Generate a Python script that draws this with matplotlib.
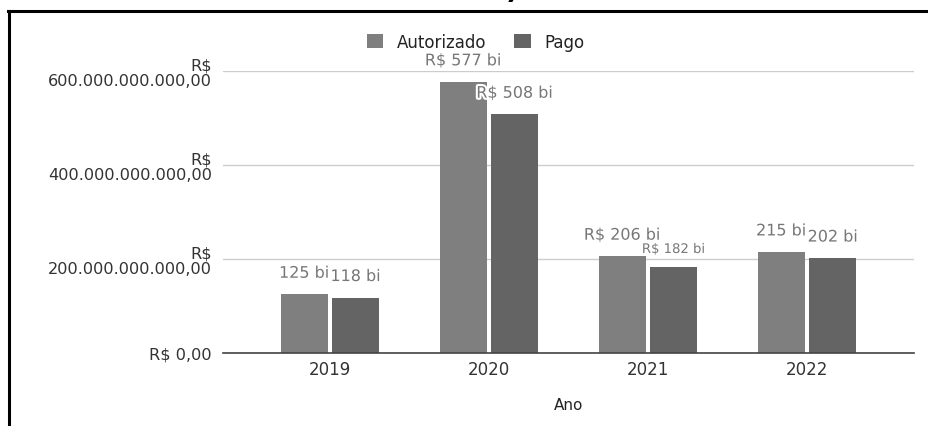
import matplotlib
matplotlib.use("Agg")
import matplotlib.pyplot as plt
import matplotlib.patheffects as pe
from matplotlib.lines import Line2D
import numpy as np

# dados (R$)
anos = ["2019", "2020", "2021", "2022"]
autorizado = [125e9, 577e9, 206e9, 215e9]
pago = [118e9, 508e9, 182e9, 202e9]
rot_autorizado = ["125 bi", "R$ 577 bi", "R$ 206 bi", "215 bi"]
rot_pago = ["118 bi", "R$ 508 bi", "R$ 182 bi", "202 bi"]
yticks = [0, 200e9, 400e9, 600e9]
ytick_labels = ["R$ 0,00", "R$\n200.000.000.000,00", "R$\n400.000.000.000,00",
                "R$\n600.000.000.000,00"]

COR_AUT = "#7f7f7f"
COR_PAGO = "#646464"
COR_ROT = "#777777"

plt.rcParams['font.family'] = ['DejaVu Sans']

W, H = 929, 427
fig = plt.figure(figsize=(W / 100, H / 100), dpi=100)
ax = fig.add_axes([223 / W, 1 - 354 / H, (914 - 223) / W, (354 - 72) / H])

x = np.arange(len(anos))
w = 0.296
off = 0.162
b1 = ax.bar(x - off, autorizado, w, color=COR_AUT, label="Autorizado", zorder=2)
b2 = ax.bar(x + off, pago, w, color=COR_PAGO, label="Pago", zorder=2)

ax.set_xlim(-0.673, 3.673)
ax.set_ylim(0, 600e9)

stroke = [pe.withStroke(linewidth=3, foreground="white")]
for i in range(len(anos)):
    ax.annotate(rot_autorizado[i], (x[i] - off, autorizado[i]), xytext=(0, 21),
                textcoords="offset pixels", ha="center", va="center",
                fontsize=11.5, color=COR_ROT, path_effects=stroke, zorder=3)
for i in range(len(anos)):
    fs = 9.5 if i == 2 else 11.5
    dy = 18 if i == 2 else 21
    ax.annotate(rot_pago[i], (x[i] + off, pago[i]), xytext=(0, dy),
                textcoords="offset pixels", ha="center", va="center",
                fontsize=fs, color=COR_ROT, path_effects=stroke, zorder=4)

ax.set_yticks(yticks)
ax.set_yticklabels(ytick_labels, fontsize=11.6, color="#333333", linespacing=1.0)
ax.set_xticks(x)
ax.set_xticklabels(anos, fontsize=12, color="#333333")
ax.tick_params(axis="both", length=0)
ax.tick_params(axis="y", pad=8)
ax.tick_params(axis="x", pad=5)
ax.set_xlabel("Ano", fontsize=11, color="#222222", labelpad=14)

ax.grid(axis="y", color="#cccccc", linewidth=1, zorder=0)
for s in ["top", "right", "left"]:
    ax.spines[s].set_visible(False)
ax.spines["bottom"].set_color("#444444")
ax.spines["bottom"].set_linewidth(1.2)
ax.spines["bottom"].set_zorder(3)

fig.legend(handles=[b1, b2], loc="center", bbox_to_anchor=(475.5 / W, 1 - 43 / H),
           ncol=2, frameon=False, fontsize=12, handlelength=1.0, handleheight=0.9,
           handletextpad=0.8, columnspacing=1.7, labelcolor="#222222")

# moldura
fig.add_artist(Line2D([9 / W, 9 / W], [0, 1 - 12 / H], color="black", linewidth=2.2))
fig.add_artist(Line2D([8 / W, 1], [1 - 12 / H, 1 - 12 / H], color="black", linewidth=2.2))
# resto do titulo cortado
fig.text(512 / W, 1 + 1.5 / H, ")", fontsize=20, fontweight="bold", ha="center",
         va="baseline")

fig.savefig("out.png", dpi=100, facecolor="white")
